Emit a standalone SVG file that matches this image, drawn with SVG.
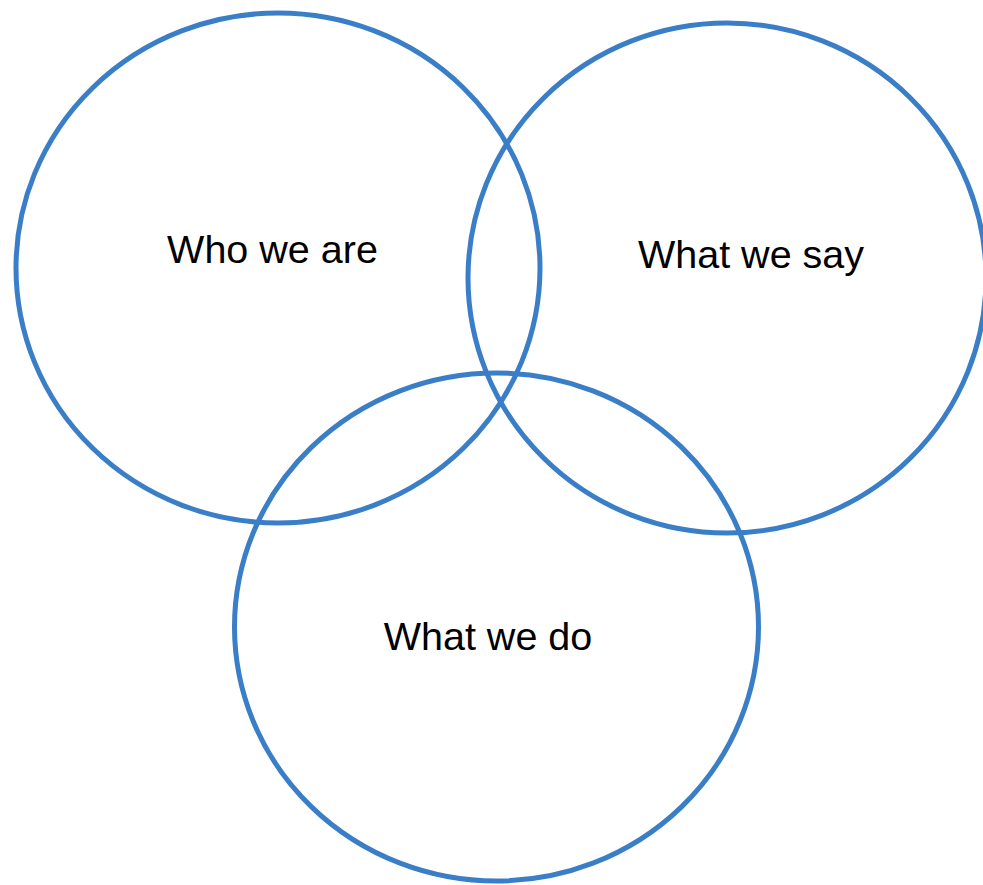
<svg xmlns="http://www.w3.org/2000/svg" width="983" height="885" viewBox="0 0 983 885">
<style>
.c{fill:none;stroke:#3a7ec8;stroke-width:5}
.t{font-family:"Liberation Sans",Arial,sans-serif;font-size:39.5px;fill:#000;text-anchor:middle}
</style>
<rect width="983" height="885" fill="#fff"/>
<g id="who">
<ellipse class="c" cx="278" cy="268" rx="262" ry="255"/>
<text class="t" x="272.5" y="263">Who we are</text>
</g>
<g id="say">
<ellipse class="c" cx="727" cy="278" rx="259" ry="255"/>
<text class="t" x="751" y="268">What we say</text>
</g>
<g id="do">
<ellipse class="c" cx="496.5" cy="627" rx="262" ry="254"/>
<text class="t" x="488" y="650">What we do</text>
</g>
</svg>
